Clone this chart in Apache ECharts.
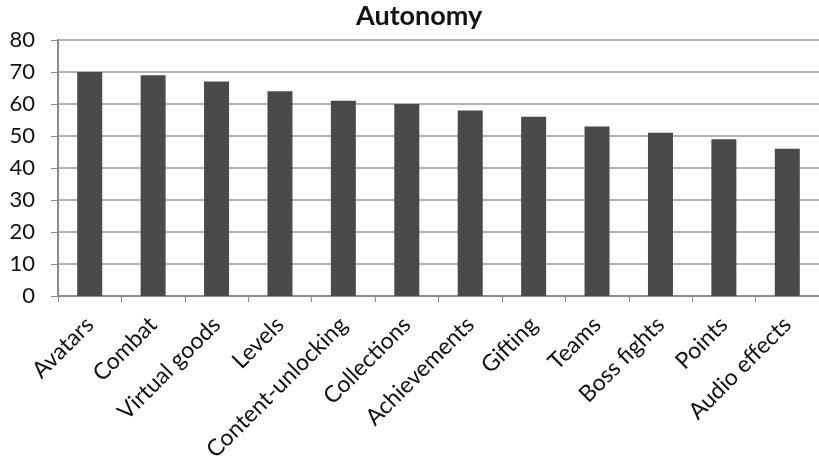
<!DOCTYPE html>
<html>
<head>
<meta charset="utf-8">
<script src="https://cdn.jsdelivr.net/npm/echarts@6/dist/echarts.min.js"></script>
<style>
  html, body { margin: 0; padding: 0; background: #fff; }
  #chart { width: 819px; height: 473px; }
</style>
</head>
<body>
<div id="chart"></div>
<script>
// Game elements ranked by autonomy score
const categories = ['Avatars', 'Combat', 'Virtual goods', 'Levels', 'Content-unlocking', 'Collections',
  'Achievements', 'Gifting', 'Teams', 'Boss fights', 'Points', 'Audio effects'];
const autonomy = [70, 69, 67, 64, 61, 60, 58, 56, 53, 51, 49, 46];
const yTicks = [0, 10, 20, 30, 40, 50, 60, 70, 80];

const chart = echarts.init(document.getElementById('chart'), null, { renderer: 'canvas' });
const fontFamily = 'Lato, "Open Sans", sans-serif';

chart.setOption({
  animation: false,
  title: {
    text: 'Autonomy',
    left: 356,
    top: 3,
    padding: 0,
    textStyle: { fontFamily, fontSize: 27, fontWeight: 'bold', color: '#111' }
  },
  grid: { left: 58, right: 0, top: 40, bottom: 177, containLabel: false },
  xAxis: {
    type: 'category',
    data: categories,
    axisLine: { show: true, lineStyle: { color: '#8c8c8c', width: 2 } },
    axisTick: { show: true, alignWithLabel: false, length: 6, lineStyle: { color: '#8c8c8c', width: 1 } },
    axisLabel: {
      rotate: 45,
      interval: 0,
      margin: 25,
      fontFamily,
      fontSize: 23,
      color: '#111'
    }
  },
  yAxis: {
    type: 'value',
    min: yTicks[0],
    max: yTicks[yTicks.length - 1],
    interval: 10,
    axisLine: { show: true, lineStyle: { color: '#8c8c8c', width: 2 } },
    axisTick: { show: true, length: 7, lineStyle: { color: '#8c8c8c', width: 1 } },
    splitLine: { show: true, lineStyle: { color: '#9a9a9a', width: 1.5 } },
    axisLabel: { margin: 23, fontFamily, fontSize: 22, color: '#111' }
  },
  series: [{
    type: 'bar',
    data: autonomy,
    barWidth: 25,
    itemStyle: { color: '#4a4a4a' }
  }]
});
</script>
</body>
</html>
